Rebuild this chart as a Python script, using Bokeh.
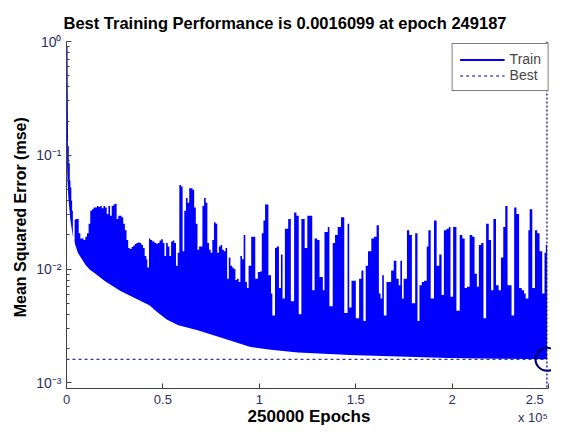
import numpy as np
from bokeh.plotting import figure
from bokeh.models import (Range1d, FixedTicker, CustomJSTickFormatter, Span,
                          Legend, LegendItem)
from bokeh.embed import file_html
from bokeh.resources import INLINE

# ---------------- data ----------------
n_epochs = 250000
best_epoch = 249187
best_mse = 0.0016099

# first epochs of the training curve
start_epoch = [0, 300]
start_mse = [0.9, 0.133]

# upper contour of the (very dense, oscillating) training curve
contour_epoch = [
    300, 800, 1200, 1700, 2050, 2500, 2910, 3300, 3760, 4200, 4620, 5480,
    6330, 7190, 8900, 9750, 10610, 11460, 12320, 13170, 14030, 14890, 15740,
    16600, 17450, 18310, 19160, 20020, 20870, 21730, 22590, 23440, 24300,
    25150, 26010, 26860, 27720, 28570, 29430, 30280, 31140, 32000, 32850,
    33710, 34560, 35420, 36270, 37130, 37980, 38840, 39700, 40550, 41410,
    41920, 42770, 43460, 44490, 45680, 46540, 47390, 48250, 49110, 49960,
    50820, 51670, 52530, 53380, 54240, 55090, 55950, 56810, 57660, 58520,
    59370, 60230, 61080, 61940, 62790, 63650, 64510, 65360, 66220, 67070,
    67930, 68780, 69640, 70490, 71350, 72200, 73060, 73920, 74770, 75630,
    76480, 77340, 78190, 79050, 79910, 80760, 81620, 82470, 83330, 84180,
    85040, 85890, 86750, 87600, 88460, 89320, 90170, 91030, 91880, 92740,
    93590, 94450, 95800, 97900, 99240, 100440, 101290, 102150, 103000,
    104720, 106080, 106770, 108140, 108990, 110190, 111220, 112070, 113270,
    114980, 116350, 118060, 119260, 120460, 121830, 123540, 124910, 126100,
    127470, 128670, 130040, 131240, 132950, 133800, 135510, 136370, 138080,
    139280, 140650, 142360, 144070, 145780, 146640, 147830, 149200, 150060,
    151770, 152970, 153990, 155190, 156390, 158100, 159470, 160840, 162030,
    162890, 163750, 164600, 165970, 167170, 168370, 169730, 171100, 172300,
    173160, 174010, 174870, 176580, 177780, 179140, 180860, 182050, 183080,
    184280, 185480, 186840, 187700, 188900, 190610, 191980, 193350, 194540,
    195740, 197110, 198310, 199160, 200530, 202240, 203950, 205320, 206520,
    207720, 209090, 210460, 211650, 212850, 213880, 215080, 216270, 217640,
    219010, 220210, 221410, 222780, 224140, 225340, 226540, 227570, 228760,
    229620, 230820, 232190, 233380, 234750, 236120, 237320, 238170, 239540,
    240230, 241600, 242960, 244160, 245360, 246730, 247930, 248600, 249187,
]
contour_mse = [
    0.133, 0.12, 0.085, 0.06, 0.052, 0.04, 0.0325, 0.018, 0.016, 0.027, 0.0276, 0.0276,
    0.0206, 0.0186, 0.018, 0.0192, 0.0206, 0.025, 0.0325, 0.0336, 0.0347, 0.0347, 0.0358,
    0.0351, 0.0358, 0.0342, 0.0358, 0.0347, 0.0304, 0.0358, 0.0294, 0.0358, 0.0370,
    0.0375, 0.0276, 0.0294, 0.0294, 0.0285, 0.0250, 0.0219, 0.0180, 0.0153, 0.0150,
    0.0156, 0.0160, 0.0166, 0.0169, 0.0171, 0.0169, 0.0163, 0.0153, 0.0130, 0.0122,
    0.0103, 0.0186, 0.0180, 0.0175, 0.0169, 0.0167, 0.0169, 0.0178, 0.0183, 0.0169,
    0.0130, 0.0169, 0.0158, 0.0130, 0.0175, 0.0178, 0.0169, 0.0107, 0.0139, 0.0548,
    0.0531, 0.0143, 0.0325, 0.0422, 0.0383, 0.0514, 0.0514, 0.0497, 0.0347, 0.0250,
    0.0148, 0.0158, 0.0158, 0.0358, 0.0422, 0.0383, 0.0169, 0.0148, 0.0139, 0.0180,
    0.0258, 0.0250, 0.0139, 0.0158, 0.0163, 0.0148, 0.0143, 0.0153, 0.0082, 0.0126,
    0.0107, 0.0103, 0.0100, 0.0080, 0.0082, 0.0077, 0.0130, 0.0122, 0.0199, 0.0077,
    0.0068, 0.0107, 0.0192, 0.0082, 0.0094, 0.0095, 0.0206, 0.0267, 0.0370,
    0.0088, 0.0061, 0.0039, 0.0153, 0.0158, 0.0068, 0.0134, 0.0055, 0.0226,
    0.0276, 0.0052, 0.0314, 0.0294, 0.0040, 0.0276, 0.0153, 0.0294, 0.0294,
    0.0065, 0.0186, 0.0180, 0.0085, 0.0065, 0.0212, 0.0234, 0.0047, 0.0169,
    0.0199, 0.0234, 0.0285, 0.0041, 0.0250, 0.0046, 0.0079, 0.0079, 0.0037,
    0.0082, 0.0097, 0.0035, 0.0107, 0.0143, 0.0186, 0.0192, 0.0242, 0.0061,
    0.0055, 0.0088, 0.0039, 0.0077, 0.0077, 0.0097, 0.0118, 0.0082, 0.0072,
    0.0118, 0.0055, 0.0082, 0.0219, 0.0199, 0.0050, 0.0206, 0.0035, 0.0072,
    0.0077, 0.0079, 0.0158, 0.0219, 0.0055, 0.0267, 0.0107, 0.0134, 0.0059,
    0.0219, 0.0226, 0.0234, 0.0057, 0.0234, 0.0043, 0.0199, 0.0186, 0.0068,
    0.0070, 0.0199, 0.0192, 0.0091, 0.0070, 0.0163, 0.0169, 0.0037, 0.0250,
    0.0180, 0.0065, 0.0276, 0.0072, 0.0065, 0.0126, 0.0234, 0.0358, 0.0072,
    0.0072, 0.0039, 0.0347, 0.0304, 0.0068, 0.0065, 0.0061, 0.0055, 0.0219,
    0.0336, 0.0068, 0.0219, 0.0206, 0.0143, 0.0061, 0.0139, 0.0163, 0.0085,
]

# lower envelope of the training curve
floor_epoch = [0, 500, 1000, 2000, 3500, 6000, 10000, 12000, 15000, 20000,
               28000, 38000, 43000, 47000, 52000, 58000, 68000, 80000, 95000,
               106000, 120000, 147000, 172000, 198000, 225000, 249187]
floor_mse = [0.12, 0.06, 0.042, 0.027, 0.0185, 0.0138, 0.0108, 0.0099, 0.0091,
             0.0078, 0.0064, 0.0053, 0.0048, 0.0042, 0.0036, 0.0032, 0.0029,
             0.0025, 0.00207, 0.00195, 0.00185, 0.00176, 0.00170, 0.00165,
             0.00163, 0.00161]

x_ticks = [0, 50000, 100000, 150000, 200000, 250000]
y_ticks = [0.001, 0.01, 0.1, 1.0]
y_minor = [k * 10.0 ** e for e in range(-4, 0) for k in range(2, 10)]

# ---------------- figure ----------------
FONT = "Liberation Sans"
ymin, ymax = 10 ** -3.05, 1.0
xmax = 251556

p = figure(width=551, height=428, output_backend="svg", toolbar_location=None,
           y_axis_type="log", x_range=Range1d(0, xmax), y_range=Range1d(ymin, ymax),
           min_border_left=66, min_border_right=0, min_border_top=41,
           min_border_bottom=38)
p.outline_line_color = None
p.grid.visible = False
p.background_fill_color = "white"
p.border_fill_color = "white"

p.title.text = "Best Training Performance is 0.0016099 at epoch 249187"
p.title.text_font = FONT
p.title.text_font_size = "16.5px"
p.title.text_font_style = "bold"
p.title.text_color = "black"
p.title.align = "left"
p.title.offset = -3
p.title.standoff = 19

blue = "#0000ff"
navy = "#000080"

# dense training curve: filled contour, then cut away below its lower envelope
p.varea_step(x=contour_epoch, y1=[ymin] * len(contour_epoch), y2=contour_mse,
             step_mode="after", fill_color=blue)
p.varea(x=floor_epoch, y1=[ymin] * len(floor_epoch), y2=floor_mse,
        fill_color="white")
train_line = p.line(start_epoch, start_mse, line_color=blue, line_width=2)

best_h = p.line([0, best_epoch], [best_mse, best_mse], line_color=navy,
                line_width=1, line_dash="3 3")
p.add_layout(Span(location=best_epoch, dimension="height", line_color=navy,
                  line_width=1.2, line_dash="2 2"))
p.scatter([best_epoch], [best_mse], size=23, marker="circle",
          fill_color=None, line_color="#000066", line_width=2)

legend = Legend(items=[LegendItem(label="Train", renderers=[train_line]),
                       LegendItem(label="Best", renderers=[best_h])],
                location="top_right")
legend.label_text_font = FONT
legend.label_text_font_size = "14px"
legend.glyph_width = 45
legend.glyph_height = 15
legend.label_standoff = 5
legend.padding = 7
legend.spacing = 0
legend.margin = 2
legend.border_line_color = "black"
legend.border_line_width = 1
legend.background_fill_alpha = 1
p.add_layout(legend)

tick_color = "#2e2e5e"
axis_color = "#404040"

xa = p.xaxis[0]
xa.ticker = FixedTicker(ticks=x_ticks)
# the last tick carries the "x 10^5" exponent note on a second line
xa.formatter = CustomJSTickFormatter(code="""
if (tick == 250000) {
  return "2.5\\n" + "x 10\\u2075" + "\\u00a0";
}
return String(tick/1e5);
""")
xa.bounds = (0, n_epochs)
xa.axis_label = "250000 Epochs"
xa.axis_label_text_font = FONT
xa.axis_label_text_font_size = "17px"
xa.axis_label_text_font_style = "bold"
xa.axis_label_text_color = "black"
xa.axis_label_standoff = -21
xa.major_label_standoff = 3
xa.major_label_text_font = FONT
xa.major_label_text_font_size = "13px"
xa.major_label_text_color = tick_color
xa.major_tick_in = 5
xa.major_tick_out = 0
xa.minor_tick_in = 0
xa.minor_tick_out = 0
xa.axis_line_color = axis_color
xa.major_tick_line_color = axis_color

ya = p.yaxis[0]
ya.ticker = FixedTicker(ticks=y_ticks, minor_ticks=y_minor)
ya.formatter = CustomJSTickFormatter(code="""
const e = Math.round(Math.log10(tick));
const sup = {"-": "\u207b", "0": "\u2070", "1": "\u00b9", "2": "\u00b2", "3": "\u00b3"};
return "10" + String(e).split("").map(c => sup[c]).join("");
""")
ya.axis_label = "Mean Squared Error  (mse)"
ya.axis_label_text_font = FONT
ya.axis_label_text_font_size = "16px"
ya.axis_label_text_font_style = "bold"
ya.axis_label_text_color = "black"
ya.axis_label_standoff = 4
ya.major_label_standoff = 5
ya.major_label_text_font = FONT
ya.major_label_text_font_size = "14px"
ya.major_label_text_color = tick_color
ya.major_tick_in = 5
ya.major_tick_out = 0
ya.minor_tick_in = 3
ya.minor_tick_out = 0
ya.axis_line_color = axis_color
ya.major_tick_line_color = axis_color
ya.minor_tick_line_color = axis_color

open("out.html", "w").write(file_html(p, INLINE))
